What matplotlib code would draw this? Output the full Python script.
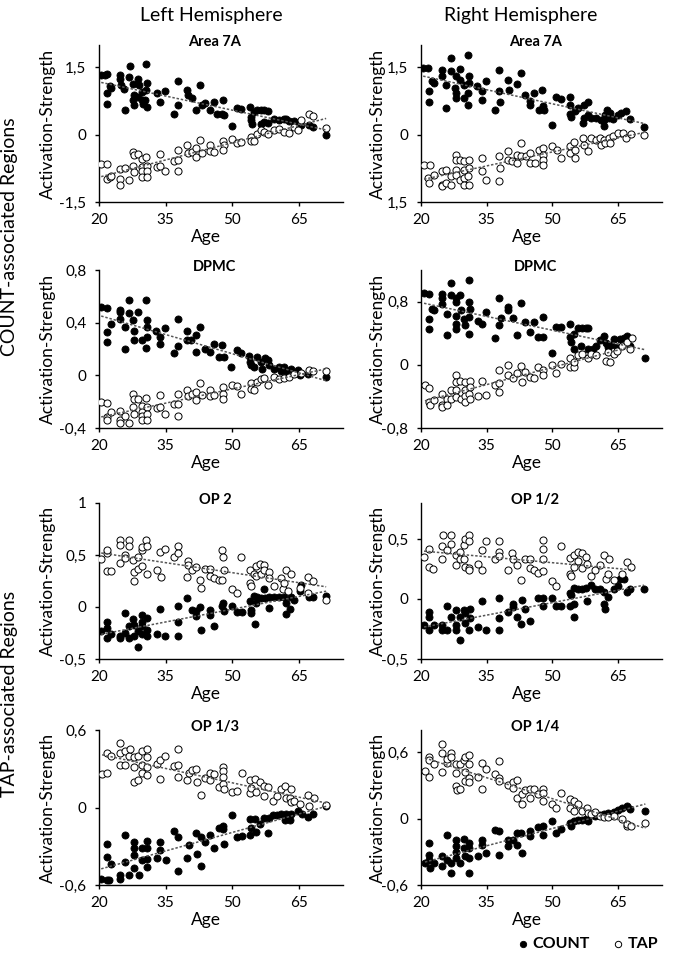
import numpy as np
import matplotlib
matplotlib.use("Agg")
import matplotlib.pyplot as plt

plt.rcParams["font.family"] = ["Lato", "DejaVu Sans"]

# ---- data (age, activation strength) ------------------------------------
# Left hemisphere, Area 7A
L7A_COUNT_AGE = [20.5, 21.3, 21.9, 21.7, 21.9, 22.4, 22.8, 24.8, 24.8, 24.9, 25.8, 25.6, 27.0, 26.8, 27.7, 27.9, 27.7, 27.9,
                 28.9, 29.0, 29.6, 29.6, 28.7, 30.7, 30.9, 30.7, 30.9, 30.4, 30.0, 33.0, 33.8, 34.9, 36.8, 37.9, 37.9,
                 39.8, 40.0, 41.0, 41.9, 42.8, 43.2, 44.0, 45.0, 46.0, 46.6, 48.0, 48.1, 47.8, 50.0, 51.0, 51.9,
                 54.0, 54.2, 54.3, 54.6, 54.9, 55.6, 56.5, 57.2, 58.2, 56.5, 57.2, 58.0, 59.5, 60.6, 61.8, 62.1, 62.9,
                 64.0, 64.8, 65.5, 67.4, 68.2, 71.2]
L7A_COUNT_VAL = [1.33, 1.34, 1.35, 0.92, 0.68, 1.08, 1.05, 1.33, 1.25, 1.10, 0.54, 1.03, 1.53, 1.29, 1.14, 0.88, 0.77, 0.66,
                 1.25, 1.10, 0.96, 0.77, 0.84, 1.57, 1.16, 0.99, 0.62, 0.77, 0.69, 0.92, 0.73, 0.98, 0.47, 1.20, 0.66,
                 0.99, 0.88, 0.81, 0.54, 1.10, 0.66, 0.71, 0.54, 0.73, 0.47, 0.77, 0.43, 0.47, 0.19, 0.60, 0.58,
                 0.62, 0.40, 0.32, 0.25, 0.51, 0.54, 0.54, 0.54, 0.52, 0.25, 0.28, 0.26, 0.36, 0.32, 0.36, 0.34, 0.31,
                 0.30, 0.26, 0.21, 0.21, 0.17, 0.00]
L7A_TAP_AGE = [20.5, 21.9, 21.8, 22.4, 22.8, 24.7, 24.8, 24.8, 25.8, 26.8, 27.7, 27.9, 27.7, 27.9, 28.9, 29.6, 29.6, 29.8,
               29.8, 30.7, 30.9, 30.9, 30.9, 33.8, 33.0, 34.9, 33.8, 36.8, 37.9, 37.9, 37.9, 39.8, 40.0, 41.0, 41.9,
               41.9, 42.8, 43.2, 45.0, 45.0, 46.0, 48.0, 48.1, 48.0, 50.0, 51.0, 51.9, 54.2, 54.3, 54.9, 55.6, 56.5,
               57.2, 58.2, 59.5, 60.6, 61.8, 62.9, 64.0, 64.8, 65.5, 67.4, 68.2, 71.2]
L7A_TAP_VAL = [-0.65, -0.65, -0.99, -0.95, -0.91, -0.76, -0.99, -1.13, -0.74, -1.01, -0.39, -0.46, -0.69, -0.84, -0.44,
               -0.54, -0.72, -0.80, -0.95, -0.50, -0.69, -0.80, -0.95, -0.44, -0.72, -0.80, -0.69, -0.59, -0.34, -0.57,
               -0.81, -0.24, -0.41, -0.39, -0.29, -0.50, -0.11, -0.41, -0.24, -0.37, -0.39, -0.14, -0.24, -0.35, -0.09,
               -0.19, -0.16, -0.05, -0.13, -0.14, 0.02, 0.11, 0.06, 0.02, 0.10, 0.13, 0.06, 0.04, 0.17, 0.11, 0.32,
               0.47, 0.41, 0.16]

# Right hemisphere, Area 7A
R7A_COUNT_AGE = [20.5, 21.6, 21.8, 21.8, 22.4, 22.9, 24.8, 24.8, 25.8, 25.8, 26.8, 26.8, 27.9, 27.7, 27.9, 27.9, 28.8, 29.0,
                 29.7, 29.9, 30.8, 30.9, 30.9, 30.8, 30.8, 32.8, 33.9, 33.9, 34.9, 36.8, 37.8, 38.0, 37.8, 39.8, 40.0,
                 41.8, 42.9, 43.7, 44.8, 44.9, 45.9, 47.0, 47.7, 47.9, 48.1, 49.9, 50.8, 52.0, 54.0, 54.0, 54.0, 54.3,
                 55.1, 55.8, 56.9, 57.3, 58.0, 57.1, 58.0, 58.9, 59.9, 61.0, 61.7, 62.1, 62.4, 61.8, 63.0, 63.2, 63.9,
                 65.0, 65.7, 66.8, 67.6, 71.0]
R7A_COUNT_VAL = [1.48, 1.48, 0.97, 0.74, 1.19, 1.15, 1.45, 1.30, 0.59, 1.11, 1.71, 1.41, 1.30, 1.04, 0.93, 0.82, 1.46, 1.22,
                 1.11, 0.82, 1.78, 1.30, 1.15, 0.93, 0.67, 1.08, 0.97, 0.78, 1.19, 0.56, 1.45, 0.74, 0.97, 1.22, 1.00,
                 1.14, 1.37, 0.89, 0.76, 0.67, 0.93, 0.56, 0.99, 0.63, 0.56, 0.22, 0.85, 0.79, 0.85, 0.67, 0.47, 0.39,
                 0.52, 0.59, 0.26, 0.67, 0.74, 0.37, 0.45, 0.37, 0.37, 0.33, 0.33, 0.45, 0.56, 0.19, 0.37, 0.48, 0.35,
                 0.45, 0.48, 0.52, 0.35, 0.17]
R7A_TAP_AGE = [20.7, 22.0, 21.6, 21.8, 22.9, 24.8, 24.9, 24.9, 25.8, 25.8, 26.8, 26.8, 27.9, 28.0, 27.9, 27.9, 29.0, 29.0,
               29.9, 29.9, 29.9, 29.9, 30.9, 30.9, 30.8, 30.9, 33.9, 33.9, 34.9, 37.8, 38.0, 37.8, 39.8, 39.8, 40.8,
               41.8, 41.8, 42.9, 42.9, 43.9, 44.9, 44.9, 46.1, 47.0, 47.9, 47.9, 47.9, 47.9, 49.9, 51.0, 52.0, 54.0,
               54.0, 55.0, 55.1, 55.1, 56.9, 57.1, 58.0, 58.9, 59.9, 60.8, 61.0, 61.7, 62.1, 63.0, 63.2, 63.9, 65.0,
               66.1, 66.8, 67.9, 71.0]
R7A_TAP_VAL = [-0.67, -0.67, -0.97, -1.08, -0.89, -0.82, -1.11, -1.15, -0.78, -1.08, -0.93, -1.11, -0.45, -0.56, -0.78,
               -0.89, -0.56, -1.00, -0.59, -0.78, -0.97, -1.11, -0.56, -0.74, -0.93, -1.11, -0.52, -0.82, -1.00, -0.48,
               -0.74, -1.04, -0.37, -0.56, -0.59, -0.63, -0.45, -0.19, -0.48, -0.48, -0.41, -0.63, -0.63, -0.33, -0.30,
               -0.45, -0.56, -0.67, -0.26, -0.33, -0.52, -0.26, -0.41, -0.17, -0.33, -0.52, -0.07, -0.22, -0.37, -0.07,
               -0.11, -0.07, -0.22, -0.11, -0.19, -0.07, -0.19, -0.02, 0.04, 0.04, -0.07, 0.02, 0.00]

# Left hemisphere, DPMC
LDP_COUNT_AGE = [20.5, 21.7, 21.9, 21.9, 22.8, 24.8, 24.8, 24.7, 25.8, 25.8, 26.8, 26.8, 27.7, 27.9, 27.9, 28.9, 29.6,
                 30.7, 30.9, 30.9, 30.9, 30.7, 32.9, 33.8, 33.8, 34.9, 36.8, 37.7, 37.7, 39.8, 39.8, 40.8, 41.9, 41.9,
                 42.8, 43.8, 45.0, 45.9, 47.0, 47.8, 48.1, 49.8, 51.0, 51.9, 53.8, 54.0, 54.3, 54.9, 55.7, 56.5, 56.8,
                 57.4, 58.0, 58.4, 59.5, 60.6, 61.1, 61.8, 62.1, 63.3, 64.0, 64.8, 65.4, 67.0, 71.2]
LDP_COUNT_VAL = [0.52, 0.51, 0.33, 0.25, 0.39, 0.50, 0.48, 0.43, 0.20, 0.37, 0.57, 0.47, 0.42, 0.34, 0.27, 0.48, 0.27,
                 0.57, 0.42, 0.37, 0.29, 0.21, 0.34, 0.24, 0.29, 0.36, 0.17, 0.43, 0.22, 0.34, 0.27, 0.27, 0.31, 0.18,
                 0.37, 0.20, 0.18, 0.24, 0.14, 0.23, 0.14, 0.06, 0.19, 0.17, 0.15, 0.10, 0.08, 0.06, 0.14, 0.10, 0.05,
                 0.13, 0.12, 0.08, 0.05, 0.06, 0.03, 0.06, 0.03, 0.05, 0.02, 0.04, 0.00, 0.01, -0.01]
LDP_TAP_AGE = [20.5, 21.9, 21.7, 21.8, 22.8, 24.7, 24.8, 24.8, 25.8, 26.8, 27.7, 27.9, 27.7, 27.9, 28.9, 29.6, 29.6, 29.8,
               29.8, 30.7, 30.9, 30.9, 30.9, 33.8, 33.0, 33.8, 34.9, 36.8, 37.9, 37.9, 37.9, 39.8, 40.0, 41.0, 41.9,
               41.9, 42.8, 43.2, 45.0, 45.0, 46.0, 48.0, 48.0, 48.0, 50.0, 51.0, 51.9, 54.2, 54.3, 54.9, 55.6, 56.5,
               57.2, 58.2, 59.5, 60.6, 61.8, 62.9, 64.0, 65.5, 67.4, 68.2, 71.2]
LDP_TAP_VAL = [-0.20, -0.21, -0.32, -0.34, -0.28, -0.27, -0.34, -0.36, -0.31, -0.36, -0.14, -0.18, -0.24, -0.29, -0.18,
               -0.23, -0.28, -0.31, -0.34, -0.17, -0.24, -0.29, -0.34, -0.15, -0.25, -0.24, -0.29, -0.22, -0.14, -0.22,
               -0.31, -0.11, -0.16, -0.14, -0.13, -0.19, -0.06, -0.15, -0.11, -0.16, -0.15, -0.09, -0.14, -0.18, -0.07,
               -0.08, -0.14, -0.06, -0.10, -0.11, -0.05, -0.03, -0.02, -0.07, -0.01, -0.03, -0.02, -0.01, 0.01, 0.02,
               0.04, 0.03, 0.03]

# Right hemisphere, DPMC
RDP_COUNT_AGE = [20.7, 21.9, 21.9, 21.9, 22.4, 22.9, 24.9, 24.9, 24.9, 25.9, 25.9, 26.9, 26.9, 28.0, 27.9, 28.0, 28.0,
                 28.0, 28.9, 29.1, 29.9, 30.1, 31.0, 31.0, 31.2, 31.0, 31.0, 33.0, 34.0, 34.9, 36.9, 37.9, 37.9, 38.2,
                 39.9, 39.9, 40.9, 41.9, 42.9, 43.8, 44.9, 45.9, 46.8, 47.9, 47.9, 49.9, 50.9, 51.9, 53.9, 53.9, 54.3,
                 54.9, 55.0, 55.8, 56.7, 57.7, 58.1, 56.5, 58.1, 59.2, 60.0, 60.9, 61.8, 62.2, 62.7, 63.4, 64.0, 64.8,
                 65.5, 66.3, 67.0, 67.8, 71.2]
RDP_COUNT_VAL = [0.91, 0.90, 0.58, 0.45, 0.71, 0.69, 0.90, 0.84, 0.77, 0.64, 0.38, 1.03, 0.88, 0.85, 0.80, 0.62, 0.52,
                 0.45, 0.88, 0.69, 0.58, 0.50, 1.07, 0.80, 0.71, 0.60, 0.39, 0.56, 0.52, 0.67, 0.34, 0.85, 0.50, 0.59,
                 0.73, 0.69, 0.59, 0.38, 0.78, 0.54, 0.41, 0.54, 0.35, 0.61, 0.35, 0.15, 0.48, 0.48, 0.52, 0.35, 0.29,
                 0.39, 0.20, 0.46, 0.46, 0.46, 0.46, 0.24, 0.20, 0.20, 0.24, 0.31, 0.36, 0.28, 0.22, 0.25, 0.33, 0.22,
                 0.33, 0.34, 0.37, 0.24, 0.08]
RDP_TAP_AGE = [20.9, 21.9, 21.9, 22.0, 22.9, 24.9, 24.9, 24.9, 25.9, 25.9, 26.9, 26.9, 28.0, 27.9, 28.0, 28.0, 28.9, 29.1,
               30.1, 30.1, 30.1, 30.1, 31.2, 31.2, 31.0, 31.2, 32.9, 33.9, 34.9, 36.9, 37.9, 37.9, 37.9, 39.9, 39.9,
               40.9, 41.9, 42.9, 43.0, 43.8, 44.9, 45.9, 46.8, 47.9, 47.9, 49.8, 50.9, 51.9, 53.9, 53.9, 54.9, 55.0,
               55.8, 56.7, 58.1, 58.8, 60.0, 62.2, 62.7, 63.1, 64.0, 64.8, 65.9, 67.0, 68.2, 67.8]
RDP_TAP_VAL = [-0.25, -0.30, -0.47, -0.51, -0.45, -0.37, -0.51, -0.53, -0.43, -0.51, -0.32, -0.43, -0.13, -0.22, -0.32,
               -0.41, -0.20, -0.43, -0.22, -0.32, -0.39, -0.47, -0.21, -0.28, -0.37, -0.43, -0.39, -0.20, -0.38, -0.25,
               -0.06, -0.23, -0.35, 0.00, -0.13, -0.17, -0.11, -0.01, -0.22, -0.09, -0.16, -0.17, -0.03, -0.07, -0.13,
               0.00, -0.11, 0.01, 0.08, -0.03, -0.03, 0.03, 0.12, 0.14, 0.08, 0.14, 0.13, 0.05, 0.16, 0.03, 0.14, 0.18,
               0.24, 0.29, 0.34, 0.20]

# Left hemisphere, OP 2
LOP2_COUNT_AGE = [20.5, 21.7, 21.7, 21.9, 22.8, 24.7, 24.8, 25.8, 25.8, 26.8, 26.8, 27.7, 27.9, 27.9, 28.9, 28.9, 29.6,
                  29.8, 29.8, 29.8, 30.9, 30.9, 30.9, 33.0, 33.8, 34.9, 37.9, 37.9, 37.9, 39.8, 41.0, 41.9, 41.9, 42.8,
                  42.9, 45.0, 45.0, 46.0, 47.8, 48.0, 48.1, 50.0, 51.0, 52.3, 54.0, 54.2, 54.3, 54.9, 55.2, 55.3, 55.7,
                  56.5, 57.2, 57.4, 58.4, 58.4, 59.5, 60.6, 61.8, 62.1, 62.1, 63.1, 63.3, 64.0, 65.2, 65.5, 67.4, 68.2,
                  71.2]
LOP2_COUNT_VAL = [-0.23, -0.20, -0.14, -0.30, -0.26, -0.28, -0.30, -0.06, -0.25, -0.30, -0.18, -0.12, -0.17, -0.28,
                  -0.38, -0.23, -0.08, -0.14, -0.18, -0.26, -0.11, -0.22, -0.28, -0.26, -0.02, -0.28, 0.01, -0.14,
                  -0.28, 0.09, -0.03, -0.09, -0.04, 0.00, -0.22, -0.03, -0.08, -0.18, 0.01, 0.04, -0.04, 0.01, -0.05,
                  -0.05, 0.06, -0.06, -0.03, 0.11, -0.16, 0.04, 0.10, 0.09, 0.17, 0.09, -0.01, 0.10, 0.10, 0.10, 0.10,
                  0.04, -0.07, -0.02, 0.10, 0.07, 0.15, 0.21, 0.10, 0.10, 0.11]
LOP2_TAP_AGE = [20.5, 21.7, 21.8, 21.9, 22.8, 24.8, 24.8, 24.7, 25.8, 25.8, 26.8, 26.8, 27.7, 27.9, 27.9, 28.9, 28.9,
                29.6, 29.8, 29.8, 30.7, 30.9, 30.9, 33.0, 33.8, 33.9, 34.9, 36.8, 37.9, 37.9, 39.8, 40.0, 40.0, 41.0,
                41.9, 42.8, 42.9, 44.0, 45.0, 45.1, 46.0, 47.0, 47.8, 48.0, 48.1, 47.8, 50.0, 51.0, 51.9, 54.0, 54.0,
                54.2, 54.9, 55.3, 55.3, 56.3, 56.5, 57.2, 57.2, 58.4, 58.4, 59.5, 61.0, 61.4, 61.8, 62.1, 62.5, 63.3,
                65.2, 67.0, 68.2, 67.0, 71.2]
LOP2_TAP_VAL = [0.46, 0.52, 0.55, 0.35, 0.35, 0.64, 0.60, 0.42, 0.50, 0.47, 0.64, 0.59, 0.45, 0.34, 0.25, 0.48, 0.37,
                0.55, 0.58, 0.39, 0.64, 0.59, 0.32, 0.36, 0.53, 0.29, 0.56, 0.48, 0.59, 0.52, 0.29, 0.44, 0.40, 0.36,
                0.38, 0.26, 0.18, 0.37, 0.37, 0.30, 0.28, 0.26, 0.55, 0.48, 0.36, 0.26, 0.17, 0.13, 0.48, 0.36, 0.23,
                0.20, 0.32, 0.39, 0.30, 0.41, 0.32, 0.40, 0.36, 0.34, 0.28, 0.20, 0.28, 0.17, 0.23, 0.36, 0.15, 0.32,
                0.18, 0.29, 0.25, 0.13, 0.07]

# Right hemisphere, OP 1/2
ROP12_COUNT_AGE = [20.7, 21.9, 21.9, 21.9, 22.9, 24.9, 24.9, 25.9, 25.9, 26.9, 27.9, 28.0, 28.0, 28.8, 28.9, 29.9, 30.1,
                   30.1, 31.2, 31.2, 31.0, 32.9, 33.9, 34.9, 37.9, 37.9, 37.9, 39.9, 40.9, 40.9, 41.9, 42.9, 43.0, 43.8,
                   44.9, 46.8, 47.9, 47.9, 49.9, 50.9, 51.9, 53.9, 53.9, 54.3, 54.9, 54.9, 55.0, 55.8, 56.7, 57.7,
                   57.9, 58.8, 59.7, 60.9, 61.8, 61.8, 62.0, 62.7, 64.0, 64.9, 65.5, 66.3, 66.9, 67.8, 70.9]
ROP12_COUNT_VAL = [-0.22, -0.11, -0.15, -0.26, -0.22, -0.26, -0.22, -0.06, -0.26, -0.15, -0.09, -0.22, -0.26, -0.34,
                   -0.15, -0.09, -0.12, -0.20, -0.08, -0.16, -0.26, -0.23, -0.02, -0.26, 0.01, -0.16, -0.26, -0.11,
                   -0.04, -0.07, -0.15, -0.21, -0.01, -0.08, -0.18, 0.01, 0.01, -0.06, 0.01, -0.06, -0.06, 0.05, -0.06,
                   0.03, 0.09, -0.15, -0.04, 0.08, 0.08, 0.09, -0.02, 0.12, 0.08, 0.08, 0.06, -0.04, -0.08, 0.02,
                   0.08, 0.11, 0.17, 0.17, 0.06, 0.08, 0.08]
ROP12_TAP_AGE = [20.7, 21.9, 21.9, 22.8, 24.9, 24.9, 25.0, 25.9, 26.9, 26.9, 27.9, 28.0, 28.8, 28.9, 29.9, 29.9, 30.1,
                 30.1, 31.0, 31.0, 31.0, 31.0, 32.9, 33.9, 33.9, 34.8, 36.9, 37.9, 37.9, 37.9, 39.9, 40.8, 40.9, 41.9,
                 42.9, 43.8, 44.9, 44.9, 45.9, 46.8, 47.9, 47.9, 47.9, 47.9, 49.9, 50.9, 51.9, 53.9, 53.9, 54.3, 54.9,
                 54.9, 55.8, 55.8, 56.7, 56.7, 57.7, 57.9, 58.8, 59.7, 60.9, 61.8, 62.2, 62.7, 62.9, 64.0, 65.9, 66.9,
                 67.9]
ROP12_TAP_VAL = [0.35, 0.42, 0.27, 0.25, 0.44, 0.33, 0.53, 0.41, 0.53, 0.46, 0.37, 0.28, 0.39, 0.33, 0.45, 0.33, 0.27,
                 0.50, 0.53, 0.48, 0.26, 0.24, 0.29, 0.41, 0.24, 0.48, 0.33, 0.48, 0.39, 0.36, 0.24, 0.38, 0.33, 0.28,
                 0.16, 0.33, 0.33, 0.26, 0.24, 0.22, 0.49, 0.42, 0.33, 0.23, 0.15, 0.11, 0.44, 0.34, 0.21, 0.19, 0.37,
                 0.27, 0.39, 0.32, 0.38, 0.26, 0.35, 0.29, 0.19, 0.24, 0.28, 0.37, 0.17, 0.21, 0.33, 0.16, 0.21, 0.31,
                 0.27]

# Left hemisphere, OP 1/3
LOP13_COUNT_AGE = [20.5, 21.8, 21.9, 21.9, 22.3, 22.8, 24.8, 24.8, 25.8, 25.8, 26.8, 27.9, 27.9, 27.9, 27.9, 29.1, 29.8,
                   29.8, 30.9, 30.9, 30.9, 30.9, 33.0, 33.8, 33.8, 35.1, 36.9, 37.9, 37.9, 39.8, 40.2, 41.9, 42.1, 42.9,
                   42.9, 44.0, 45.0, 46.0, 47.0, 48.0, 48.0, 48.1, 50.0, 51.0, 52.3, 54.0, 54.0, 54.3, 55.2, 55.3, 56.3,
                   57.2, 58.0, 58.4, 59.3, 60.2, 61.1, 61.9, 62.1, 63.1, 63.3, 64.9, 65.7, 67.0, 68.2, 71.2]
LOP13_COUNT_VAL = [-0.55, -0.28, -0.38, -0.56, -0.56, -0.44, -0.52, -0.55, -0.21, -0.42, -0.52, -0.27, -0.31, -0.37,
                   -0.47, -0.52, -0.31, -0.41, -0.26, -0.31, -0.46, -0.40, -0.39, -0.27, -0.33, -0.41, -0.18, -0.23,
                   -0.49, -0.39, -0.29, -0.20, -0.36, -0.45, -0.23, -0.27, -0.21, -0.31, -0.16, -0.14, -0.17, -0.28,
                   -0.06, -0.23, -0.22, -0.09, -0.21, -0.16, -0.09, -0.19, -0.13, -0.08, -0.20, -0.08, -0.06, -0.06,
                   -0.05, -0.10, -0.05, -0.10, -0.05, -0.03, -0.05, -0.07, -0.05, 0.01]
LOP13_TAP_AGE = [20.7, 21.9, 21.9, 22.8, 24.8, 24.7, 24.8, 25.8, 25.8, 26.8, 26.9, 27.9, 27.9, 27.9, 28.9, 28.9, 29.8,
                 29.8, 29.8, 30.9, 30.9, 30.9, 30.9, 33.0, 33.8, 33.8, 34.9, 36.9, 37.9, 37.9, 37.9, 39.8, 40.2, 41.0,
                 41.9, 42.1, 42.9, 44.0, 45.0, 45.1, 46.0, 47.0, 48.0, 48.0, 48.0, 48.0, 48.1, 50.0, 51.0, 52.3, 54.0,
                 54.0, 54.2, 55.2, 55.3, 56.3, 57.2, 57.2, 58.2, 59.3, 60.2, 61.1, 61.9, 62.1, 63.3, 63.1, 63.3, 64.0,
                 65.2, 67.0, 67.4, 68.4, 71.2]
LOP13_TAP_VAL = [0.26, 0.42, 0.27, 0.40, 0.42, 0.50, 0.33, 0.33, 0.44, 0.40, 0.45, 0.39, 0.31, 0.20, 0.21, 0.40, 0.44,
                 0.33, 0.27, 0.45, 0.39, 0.31, 0.25, 0.34, 0.37, 0.22, 0.40, 0.32, 0.45, 0.33, 0.24, 0.21, 0.27, 0.29,
                 0.30, 0.20, 0.10, 0.23, 0.27, 0.21, 0.26, 0.16, 0.31, 0.28, 0.24, 0.18, 0.14, 0.12, 0.13, 0.27, 0.21,
                 0.11, 0.15, 0.22, 0.12, 0.20, 0.17, 0.09, 0.16, 0.05, 0.09, 0.14, 0.17, 0.07, 0.14, 0.07, 0.04, 0.05,
                 0.03, 0.10, 0.01, 0.07, 0.02]

# Right hemisphere, OP 1/4
ROP14_COUNT_AGE = [20.9, 21.9, 21.9, 21.9, 22.0, 22.9, 24.9, 24.9, 25.9, 25.9, 26.9, 26.9, 27.9, 27.9, 28.0, 28.0, 28.9,
                   29.9, 29.9, 30.1, 31.0, 31.0, 31.0, 31.0, 32.9, 33.9, 33.9, 34.9, 36.9, 37.9, 37.9, 39.9, 39.9, 40.9,
                   41.9, 41.9, 43.0, 42.9, 44.9, 44.9, 46.8, 47.9, 47.9, 49.9, 50.9, 51.9, 53.9, 54.3, 54.9, 55.8, 56.7,
                   57.7, 58.1, 58.8, 59.7, 60.9, 61.8, 62.7, 64.0, 64.9, 65.9, 66.9, 67.8, 71.2]
ROP14_COUNT_VAL = [-0.40, -0.22, -0.33, -0.37, -0.45, -0.40, -0.34, -0.43, -0.15, -0.37, -0.49, -0.40, -0.19, -0.25,
                   -0.30, -0.36, -0.40, -0.18, -0.27, -0.34, -0.22, -0.27, -0.36, -0.49, -0.34, -0.19, -0.24, -0.31,
                   -0.10, -0.11, -0.33, -0.19, -0.25, -0.19, -0.13, -0.24, -0.31, -0.13, -0.11, -0.16, -0.08, -0.07,
                   -0.15, -0.02, -0.13, -0.09, -0.04, -0.07, -0.02, -0.01, -0.01, 0.00, -0.02, 0.03, 0.02, 0.03, 0.04,
                   0.05, 0.06, 0.08, 0.10, 0.11, 0.09, 0.07]
ROP14_TAP_AGE = [20.9, 21.9, 21.9, 21.9, 22.9, 24.9, 24.9, 24.9, 25.9, 25.9, 26.9, 26.9, 27.9, 28.0, 28.0, 28.2, 28.9,
                 28.9, 29.9, 30.1, 30.1, 30.1, 31.0, 31.0, 31.0, 31.0, 32.9, 33.9, 33.9, 34.9, 36.9, 37.9, 37.9, 37.9,
                 39.9, 40.9, 40.9, 41.9, 41.9, 43.0, 43.0, 43.8, 44.9, 44.9, 45.9, 46.8, 47.9, 47.9, 47.9, 49.9, 50.9,
                 51.9, 53.9, 54.1, 54.9, 55.0, 55.8, 56.7, 57.9, 58.1, 58.8, 59.7, 60.9, 61.8, 62.7, 64.0, 65.9, 66.9,
                 67.0, 67.9, 71.2]
ROP14_TAP_VAL = [0.43, 0.56, 0.53, 0.38, 0.49, 0.67, 0.59, 0.42, 0.50, 0.54, 0.59, 0.56, 0.49, 0.41, 0.29, 0.26, 0.27,
                 0.49, 0.53, 0.42, 0.34, 0.56, 0.57, 0.49, 0.37, 0.33, 0.38, 0.50, 0.27, 0.45, 0.40, 0.52, 0.37, 0.34,
                 0.30, 0.33, 0.28, 0.35, 0.19, 0.13, 0.22, 0.26, 0.27, 0.19, 0.27, 0.22, 0.27, 0.23, 0.16, 0.13, 0.10,
                 0.23, 0.18, 0.10, 0.16, 0.07, 0.13, 0.07, 0.10, 0.05, 0.04, 0.06, 0.02, 0.01, 0.01, 0.02, 0.00, -0.07,
                 -0.05, -0.07, -0.04]

# ---- layout -------------------------------------------------------------
W, H = 675, 958
COLS = [(99, 343), (421, 662)]                      # axes left/right in px
ROWS = [(45, 202), (270, 428), (503, 659), (730, 885)]  # axes top/bottom in px
XLIM = (20, 75)
XTICKS = [20, 35, 50, 65]
LINE_GRAY = "#555555"


def comma(v):
    return f"{v:g}".replace(".", ",")


panels = [
    # row, col, title, count age/val, tap age/val, ylim, yticks, ytick labels
    (0, 0, "Area 7A", L7A_COUNT_AGE, L7A_COUNT_VAL, L7A_TAP_AGE, L7A_TAP_VAL, (-1.5, 2.0), [-1.5, 0, 1.5], None),
    (0, 1, "Area 7A", R7A_COUNT_AGE, R7A_COUNT_VAL, R7A_TAP_AGE, R7A_TAP_VAL, (-1.5, 2.0), [-1.5, 0, 1.5],
     ["1,5", "0", "1,5"]),
    (1, 0, "DPMC", LDP_COUNT_AGE, LDP_COUNT_VAL, LDP_TAP_AGE, LDP_TAP_VAL, (-0.4, 0.8), [-0.4, 0, 0.4, 0.8], None),
    (1, 1, "DPMC", RDP_COUNT_AGE, RDP_COUNT_VAL, RDP_TAP_AGE, RDP_TAP_VAL, (-0.8, 1.2), [-0.8, 0, 0.8], None),
    (2, 0, "OP 2", LOP2_COUNT_AGE, LOP2_COUNT_VAL, LOP2_TAP_AGE, LOP2_TAP_VAL, (-0.5, 1.0), [-0.5, 0, 0.5, 1], None),
    (2, 1, "OP 1/2", ROP12_COUNT_AGE, ROP12_COUNT_VAL, ROP12_TAP_AGE, ROP12_TAP_VAL, (-0.5, 0.8), [-0.5, 0, 0.5], None),
    (3, 0, "OP 1/3", LOP13_COUNT_AGE, LOP13_COUNT_VAL, LOP13_TAP_AGE, LOP13_TAP_VAL, (-0.6, 0.6), [-0.6, 0, 0.6], None),
    (3, 1, "OP 1/4", ROP14_COUNT_AGE, ROP14_COUNT_VAL, ROP14_TAP_AGE, ROP14_TAP_VAL, (-0.6, 0.8), [-0.6, 0, 0.6], None),
]

fig = plt.figure(figsize=(W / 100, H / 100), dpi=100)
handles = None
for row, col, title, c_age, c_val, t_age, t_val, ylim, yticks, ylabels in panels:
    x0, x1 = COLS[col]
    top, bot = ROWS[row]
    ax = fig.add_axes([x0 / W, 1 - bot / H, (x1 - x0) / W, (bot - top) / H])
    hc = ax.scatter(c_age, c_val, s=26, c="black", edgecolors="black", linewidths=0.6, zorder=2)
    ht = ax.scatter(t_age, t_val, s=26, c="white", edgecolors="black", linewidths=0.7, zorder=3)
    handles = (hc, ht)
    # linear trend lines over each series' age range
    for age, val in ((c_age, c_val), (t_age, t_val)):
        age = np.asarray(age)
        k, b = np.polyfit(age, np.asarray(val), 1)
        xs = np.array([age.min(), age.max()])
        ax.plot(xs, k * xs + b, color=LINE_GRAY, lw=1.1, dashes=(1.6, 1.2), zorder=4)

    ax.set_xlim(*XLIM)
    ax.set_ylim(*ylim)
    ax.set_xticks(XTICKS)
    ax.set_xticklabels([str(t) for t in XTICKS])
    ax.set_yticks(yticks)
    ax.set_yticklabels(ylabels if ylabels else [comma(t) for t in yticks])
    for s in ("top", "right"):
        ax.spines[s].set_visible(False)
    for s in ("left", "bottom"):
        ax.spines[s].set_linewidth(1.0)
    ax.tick_params(direction="out", length=3, width=1.0, labelsize=11)
    ax.tick_params(axis="x", pad=5)
    ax.tick_params(axis="y", pad=6)

    hpx = bot - top
    ax.text(0.475, 1 + 3 / hpx, title, transform=ax.transAxes, ha="center", va="center",
            fontsize=10.5, fontweight="bold")
    ax.set_xlabel("Age", fontsize=12.5)
    ax.xaxis.set_label_coords(0.44, -27 / hpx)
    ax.set_ylabel("Activation-Strength", fontsize=12.5)
    ax.yaxis.set_label_coords(-0.175 if col == 0 else -0.145, 0.5)

fig.text(211 / W, 1 - 16 / H, "Left Hemisphere", ha="center", va="center", fontsize=14)
fig.text(521 / W, 1 - 16 / H, "Right Hemisphere", ha="center", va="center", fontsize=14)
fig.text(10 / W, 1 - 237 / H, "COUNT-associated Regions", rotation=90, ha="center", va="center", fontsize=14)
fig.text(10 / W, 1 - 694 / H, "TAP-associated Regions", rotation=90, ha="center", va="center", fontsize=14)

fig.legend(handles, ["COUNT", "TAP"], loc="center right", bbox_to_anchor=(668 / W, 1 - 944 / H), ncol=2,
           frameon=False, handletextpad=0.0, columnspacing=1.2, handlelength=1.2, markerscale=0.9,
           borderpad=0.1, prop={"weight": "bold", "size": 11.5})

fig.savefig("out.png", dpi=100)
